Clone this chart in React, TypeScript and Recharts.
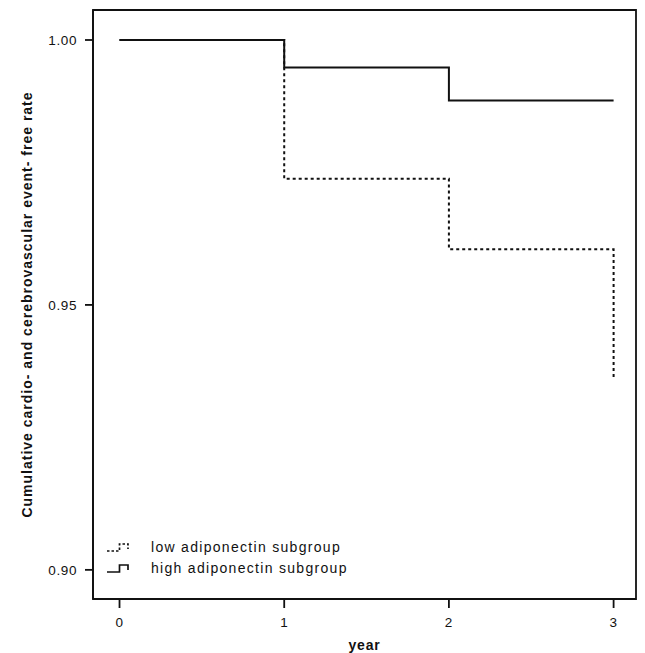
import React from 'react';
import { LineChart, Line, XAxis, YAxis, Legend, ReferenceArea } from 'recharts';

const years = [0, 1, 2, 3];
const lowAdiponectin = [1.0, 0.9738, 0.9605, 0.9361];
const highAdiponectin = [1.0, 0.9948, 0.9886, 0.9886];
const xTicks = [0, 1, 2, 3];
const yTicks = [0.9, 0.95, 1.0];
const xDomain = [-0.161, 3.136];
const yDomain = [0.8945, 1.00566];
const seriesNames = ['low adiponectin subgroup', 'high adiponectin subgroup'];

const data = years.map((y, i) => ({ year: y, low: lowAdiponectin[i], high: highAdiponectin[i] }));

const INK = '#111';
const FONT = 'Arial, "Liberation Sans", Helvetica, sans-serif';

const LegendContent = () => (
  <div style={{ fontFamily: FONT, fontSize: 14, letterSpacing: 1.3, color: INK }}>
    {seriesNames.map((name, i) => (
      <div key={name} style={{ display: 'flex', alignItems: 'center', height: 21 }}>
        <svg width={45} height={12} style={{ display: 'block', flex: 'none' }}>
          <path
            d="M1,9 H13.5 V2 H22 V7"
            fill="none"
            stroke={INK}
            strokeWidth={1.7}
            strokeDasharray={i === 0 ? '2.5 2' : undefined}
          />
        </svg>
        <span style={{ whiteSpace: 'nowrap', lineHeight: '21px' }}>{name}</span>
      </div>
    ))}
  </div>
);

const YLabel = (props: any) => {
  const vb = props.viewBox || {};
  const cx = (vb.x || 0) + 27;
  const cy = (vb.y || 0) + (vb.height || 0) / 2;
  return (
    <text
      x={cx}
      y={cy}
      transform={`rotate(-90, ${cx}, ${cy})`}
      textAnchor="middle"
      dominantBaseline="central"
      fontFamily={FONT}
      fontSize={14}
      fontWeight="bold"
      letterSpacing={1.0}
      fill={INK}
    >
      Cumulative cardio- and cerebrovascular event- free rate
    </text>
  );
};

const XLabel = (props: any) => {
  const vb = props.viewBox || {};
  const cx = (vb.x || 0) + (vb.width || 0) / 2;
  const cy = (vb.y || 0) + 46;
  return (
    <text
      x={cx}
      y={cy}
      textAnchor="middle"
      dominantBaseline="central"
      fontFamily={FONT}
      fontSize={14}
      fontWeight="bold"
      letterSpacing={0.8}
      fill={INK}
    >
      year
    </text>
  );
};

const tickStyle = { fontFamily: FONT, fontSize: 13.5, fill: INK, letterSpacing: 0.6 };

export default function App() {
  return (
    <div style={{ position: 'absolute', left: 0, top: 0, width: 645, height: 653, background: '#fff' }}>
      <LineChart width={645} height={653} data={data} margin={{ top: 10, right: 9, bottom: 0, left: 0 }}>
        <XAxis
          dataKey="year"
          type="number"
          domain={xDomain}
          ticks={xTicks}
          allowDataOverflow
          height={54}
          tickSize={9}
          tickMargin={9}
          tick={tickStyle}
          axisLine={{ stroke: INK, strokeWidth: 1.8 }}
          tickLine={{ stroke: INK, strokeWidth: 1.8 }}
          label={<XLabel />}
        />
        <YAxis
          type="number"
          domain={yDomain}
          ticks={yTicks}
          allowDataOverflow
          width={93}
          tickSize={8}
          tickMargin={8}
          tick={tickStyle}
          tickFormatter={(v: number) => v.toFixed(2)}
          axisLine={{ stroke: INK, strokeWidth: 1.8 }}
          tickLine={{ stroke: INK, strokeWidth: 1.8 }}
          label={<YLabel />}
        />
        <ReferenceArea
          x1={xDomain[0]}
          x2={xDomain[1]}
          y1={yDomain[0]}
          y2={yDomain[1]}
          fill="none"
          fillOpacity={0}
          stroke={INK}
          strokeWidth={1.8}
          ifOverflow="visible"
        />
        <Legend
          layout="vertical"
          align="center"
          verticalAlign="middle"
          content={<LegendContent />}
          wrapperStyle={{ position: 'absolute', left: 106, top: 537, width: 'auto', bottom: 'auto', right: 'auto' }}
        />
        <Line
          type="stepAfter"
          dataKey="low"
          name={seriesNames[0]}
          stroke={INK}
          strokeWidth={2}
          strokeDasharray="3 3"
          dot={false}
          activeDot={false}
          isAnimationActive={false}
        />
        <Line
          type="stepAfter"
          dataKey="high"
          name={seriesNames[1]}
          stroke={INK}
          strokeWidth={2}
          dot={false}
          activeDot={false}
          isAnimationActive={false}
        />
      </LineChart>
    </div>
  );
}
